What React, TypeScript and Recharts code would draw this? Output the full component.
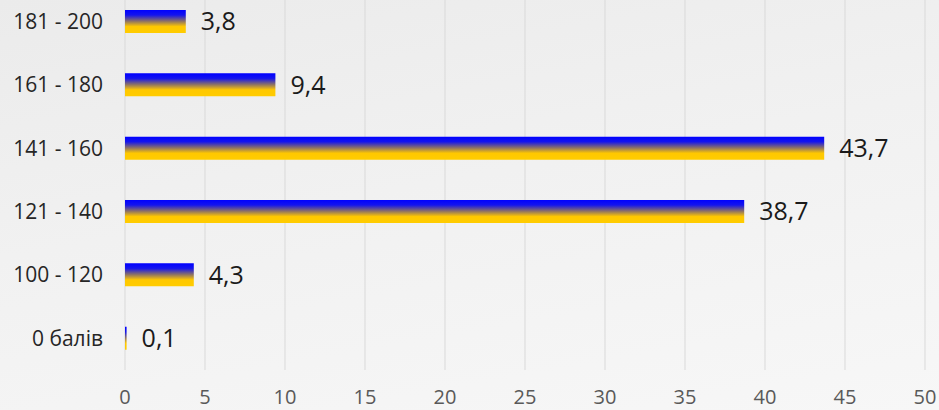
import React from 'react';
import { BarChart, Bar, XAxis, YAxis, CartesianGrid, LabelList } from 'recharts';

const categories = ['181 - 200', '161 - 180', '141 - 160', '121 - 140', '100 - 120', '0 балів'];
const shares = [3.8, 9.4, 43.7, 38.7, 4.3, 0.1];
const xTicks = [0, 5, 10, 15, 20, 25, 30, 35, 40, 45, 50];

const data = categories.map((name, i) => ({ name, value: shares[i] }));

const fmt = (v: any) => String(v).replace('.', ',');

const App: React.FC = () => {
  return (
    <div
      style={{
        position: 'absolute',
        left: 0,
        top: 0,
        width: 939,
        height: 410,
        overflow: 'hidden',
        background: 'linear-gradient(170deg, #ebebeb 0%, #f1f1f1 45%, #f7f7f7 100%)',
        fontFamily: '"Open Sans", sans-serif',
      }}
    >
      <div style={{ position: 'absolute', left: 0, top: -20 }}>
        <BarChart
          width={939}
          height={432}
          data={data}
          layout="vertical"
          margin={{ top: 10, right: 14, bottom: 0, left: 0 }}
        >
          <defs>
            <linearGradient id="uaFill" x1="0" y1="0" x2="0" y2="1">
              <stop offset="0%" stopColor="#0000ff" />
              <stop offset="22%" stopColor="#1414ee" />
              <stop offset="48%" stopColor="#8a7068" />
              <stop offset="72%" stopColor="#ffc800" />
              <stop offset="100%" stopColor="#ffcc00" />
            </linearGradient>
          </defs>
          <CartesianGrid horizontal={false} stroke="#d9d9d9" />
          <XAxis
            type="number"
            domain={[0, 50]}
            ticks={xTicks}
            interval={0}
            axisLine={false}
            tickLine={false}
            tickMargin={14}
            height={42}
            tick={{ fill: '#595959', fontSize: 20 }}
          />
          <YAxis
            type="category"
            dataKey="name"
            width={125}
            axisLine={false}
            tickLine={false}
            tickMargin={16}
            tick={{ fill: '#262626', fontSize: 21 }}
          />
          <Bar dataKey="value" fill="url(#uaFill)" barSize={23} isAnimationActive={false}>
            <LabelList
              dataKey="value"
              position="right"
              offset={15}
              formatter={fmt}
              style={{ fill: '#1a1a1a', fontSize: 25 }}
            />
          </Bar>
        </BarChart>
      </div>
    </div>
  );
};

export default App;
